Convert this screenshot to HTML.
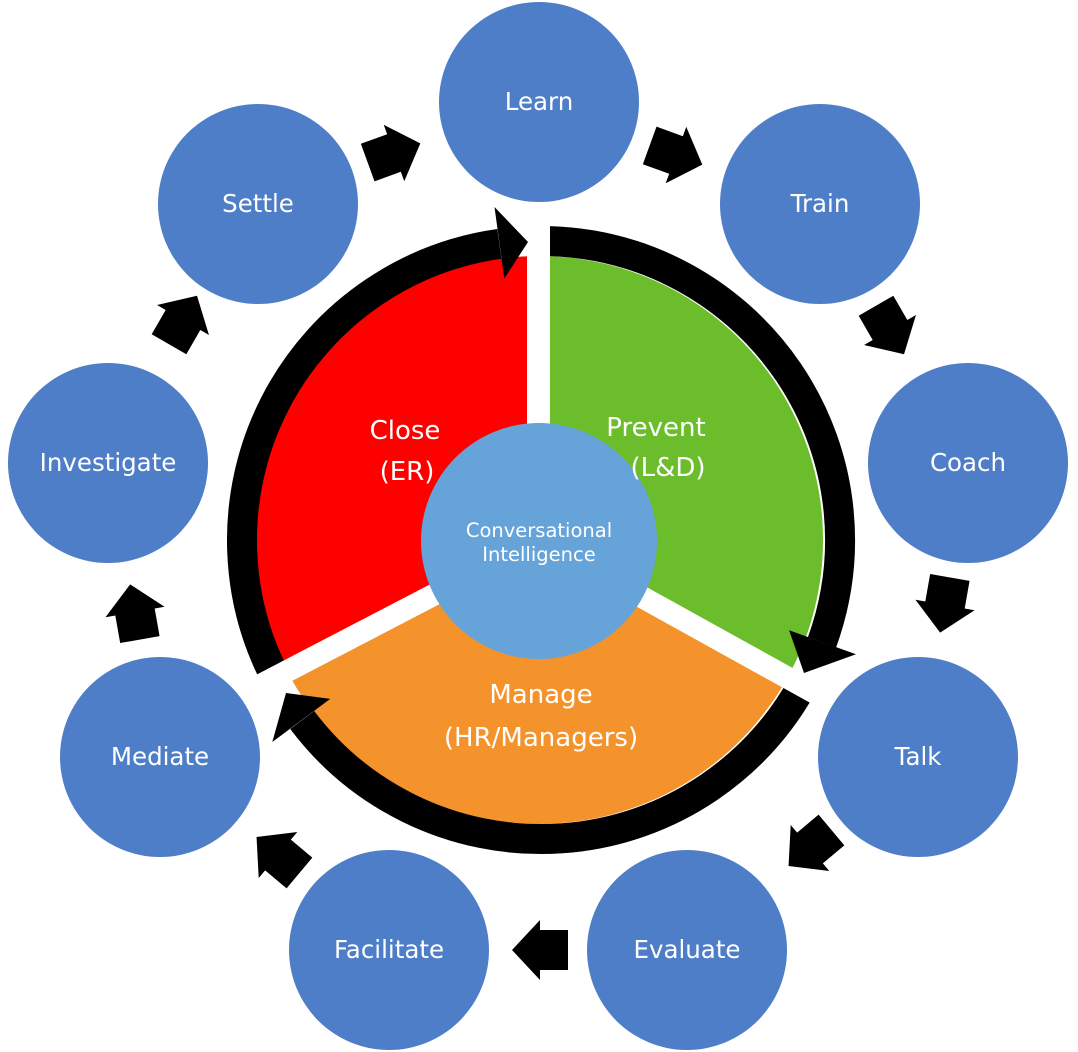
<!DOCTYPE html>
<html><head><meta charset="utf-8"><style>
html,body{margin:0;padding:0;background:#fff;}
svg{display:block;}
text{font-family:"DejaVu Sans","Liberation Sans",sans-serif;fill:#fff;text-anchor:middle;}
</style></head><body>
<svg width="1078" height="1052" viewBox="0 0 1078 1052" xmlns="http://www.w3.org/2000/svg">
<path d="M539,540 L539,256 A284,284 0 0,1 787.4,677.7 Z" fill="#6cbd2c"/>
<path d="M539,540 L787.4,677.7 A284,284 0 0,1 287.1,671.1 Z" fill="#f4922b"/>
<path d="M539,540 L287.1,671.1 A284,284 0 0,1 539,256 Z" fill="#ff0000"/>
<g fill="none" stroke="#000" stroke-width="30">
<path d="M277,680.4 A299,299 0 0,1 499.4,243.9"/>
<path d="M548.8,241.1 A299,299 0 0,1 822,642.3"/>
<path d="M802.5,685 A299,299 0 0,1 302.2,720"/>
</g>
<rect x="527" y="180" width="23" height="360" fill="#fff"/>
<line x1="539" y1="540" x2="219.7" y2="706.2" stroke="#fff" stroke-width="22"/>
<line x1="539" y1="540" x2="853.9" y2="714.5" stroke="#fff" stroke-width="22"/>
<polygon points="504.3,278.6 494.5,207 528,242" fill="#000"/>
<polygon points="789.1,630.3 856,654.2 804,673" fill="#000"/>
<polygon points="330.2,698.9 272.3,742 286,693" fill="#000"/>
<circle cx="539" cy="541" r="118" fill="#66a3d8"/>
<text x="539" y="537" font-size="19.5">Conversational</text>
<text x="539" y="561" font-size="19.5">Intelligence</text>
<text x="405" y="439" font-size="26">Close</text>
<text x="407" y="480" font-size="26">(ER)</text>
<text x="656" y="436" font-size="26">Prevent</text>
<text x="668" y="476" font-size="26">(L&amp;D)</text>
<text x="541" y="703" font-size="26">Manage</text>
<text x="541" y="746" font-size="26">(HR/Managers)</text>
<g fill="#4f7ec8">
<circle cx="539" cy="102" r="100"/>
<circle cx="820" cy="204" r="100"/>
<circle cx="968" cy="463" r="100"/>
<circle cx="918" cy="757" r="100"/>
<circle cx="687" cy="950" r="100"/>
<circle cx="389" cy="950" r="100"/>
<circle cx="160" cy="757" r="100"/>
<circle cx="108" cy="463" r="100"/>
<circle cx="258" cy="204" r="100"/>
</g>
<g font-size="24.5">
<text x="539" y="110">Learn</text>
<text x="820" y="212">Train</text>
<text x="968" y="471">Coach</text>
<text x="918" y="765">Talk</text>
<text x="687" y="958">Evaluate</text>
<text x="389" y="958">Facilitate</text>
<text x="160" y="765">Mediate</text>
<text x="108" y="471">Investigate</text>
<text x="258" y="212">Settle</text>
</g>
<g fill="#000">
<polygon points="-28,-20 0,-20 0,-30 28,0 0,30 0,20 -28,20" transform="translate(394,153) rotate(-20)"/>
<polygon points="-28,-20 0,-20 0,-30 28,0 0,30 0,20 -28,20" transform="translate(676,155) rotate(20)"/>
<polygon points="-28,-20 0,-20 0,-30 28,0 0,30 0,20 -28,20" transform="translate(890,330) rotate(60)"/>
<polygon points="-28,-20 0,-20 0,-30 28,0 0,30 0,20 -28,20" transform="translate(945,605) rotate(100)"/>
<polygon points="-28,-20 0,-20 0,-30 28,0 0,30 0,20 -28,20" transform="translate(810,848) rotate(140)"/>
<polygon points="-28,-20 0,-20 0,-30 28,0 0,30 0,20 -28,20" transform="translate(540,950) rotate(180)"/>
<polygon points="-28,-20 0,-20 0,-30 28,0 0,30 0,20 -28,20" transform="translate(278,855) rotate(220)"/>
<polygon points="-28,-20 0,-20 0,-30 28,0 0,30 0,20 -28,20" transform="translate(135,612) rotate(260)"/>
<polygon points="-28,-20 0,-20 0,-30 28,0 0,30 0,20 -28,20" transform="translate(183,320) rotate(300)"/>
</g>
</svg>
</body></html>
